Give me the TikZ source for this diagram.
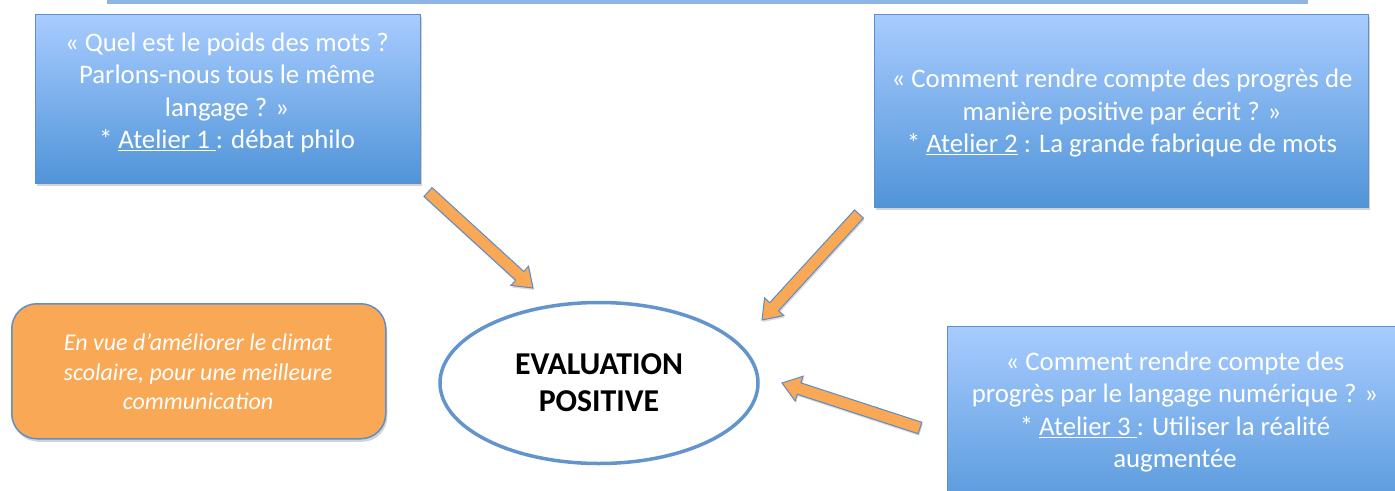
\documentclass[tikz,border=0pt]{standalone}
\usepackage{fontspec}
\setmainfont{Carlito}
\usetikzlibrary{shadows,calc,shapes.geometric}

\definecolor{boxtop}{RGB}{168,204,255}
\definecolor{boxbot}{RGB}{80,148,216}
\definecolor{boxline}{RGB}{96,142,200}
\definecolor{orangefill}{RGB}{249,168,86}
\definecolor{ellline}{RGB}{99,148,204}
\definecolor{barfill}{RGB}{141,180,227}
\definecolor{arrowline}{RGB}{91,139,200}

\tikzset{
  qbox/.style={draw=boxline, line width=1pt, top color=boxtop, bottom color=boxbot,
    drop shadow={shadow xshift=1.5pt,shadow yshift=-3pt,opacity=0.35},
    inner sep=0pt, outer sep=0pt, anchor=north west},
  qtext/.style={text=white, align=center, inner sep=0pt, font=\fontsize{26.8}{32.5}\selectfont},
  obox/.style={draw=boxline, line width=1.5pt, fill=orangefill, rounded corners=25pt,
    drop shadow={shadow xshift=1.5pt,shadow yshift=-3pt,opacity=0.35},
    inner sep=0pt, anchor=north west},
  otext/.style={text=white, align=center, inner sep=0pt, font=\fontsize{24}{29.5}\selectfont\itshape},
  evalnode/.style={ellipse, draw=ellline, line width=3.5pt, fill=white, inner sep=0pt,
    minimum width=318pt, minimum height=161pt},
  evaltext/.style={align=center, inner sep=0pt, font=\fontsize{31.8}{37}\selectfont\bfseries},
  barrow/.style={draw=arrowline, line width=1pt, fill=orangefill, line join=miter,
    drop shadow={shadow xshift=1pt,shadow yshift=-2pt,opacity=0.3}}
}

\begin{document}
\begin{tikzpicture}[x=1pt,y=-1pt]
\useasboundingbox (0,0) rectangle (1395,490);
\clip (0,0) rectangle (1395,490);

% top bar (bottom of a cut-off box)
\fill[barfill] (107,-20) rectangle (1308,4);

% question boxes
\node[qbox, minimum width=385pt, minimum height=169pt] (b1) at (35,14) {};
\node[qtext] (t1) at (227,93) {« Quel est le poids des mots ?\\Parlons-nous tous le même\\langage ? »\\* \underline{Atelier 1 }: débat philo};

\node[qbox, minimum width=494pt, minimum height=193pt] (b2) at (874,14) {};
\node[qtext] (t2) at (1122,113) {« Comment rendre compte des progrès de\\manière positive par écrit ? »\\* \underline{Atelier 2} : La grande fabrique de mots};

\node[qbox, minimum width=456pt, minimum height=200pt] (b3) at (947,326) {};
\node[qtext] (t3) at (1175,412) {« Comment rendre compte des\\progrès par le langage numérique ? »\\* \underline{Atelier 3 }: Utiliser la réalité\\augmentée};

% orange box
\node[obox, minimum width=374pt, minimum height=135pt] (ob) at (11,303) {};
\node[otext] (ot) at (198,372) {En vue d’améliorer le climat\\scolaire, pour une meilleure\\communication};

% central ellipse
\node[evalnode] (ev) at (599,383) {};
\node[evaltext] (et) at (599,383) {EVALUATION\\POSITIVE};

% block arrows
\coordinate (a1s) at (428,192);
\coordinate (a1t) at (533,288);
\coordinate (a2s) at (859,214);
\coordinate (a2t) at (762,320);
\coordinate (a3s) at (920,428);
\coordinate (a3t) at (782,383);

\foreach \s/\t in {a1s/a1t, a2s/a2t, a3s/a3t} {
  \coordinate (h) at ($(\t)!18pt!(\s)$);
  \draw[barrow] ($(\s)!6pt!90:(\t)$) -- ($(h)!6pt!90:(\t)$) -- ($(h)!13pt!90:(\t)$)
     -- (\t) -- ($(h)!13pt!-90:(\t)$) -- ($(h)!6pt!-90:(\t)$) -- ($(\s)!6pt!-90:(\t)$) -- cycle;
}
\end{tikzpicture}
\end{document}
